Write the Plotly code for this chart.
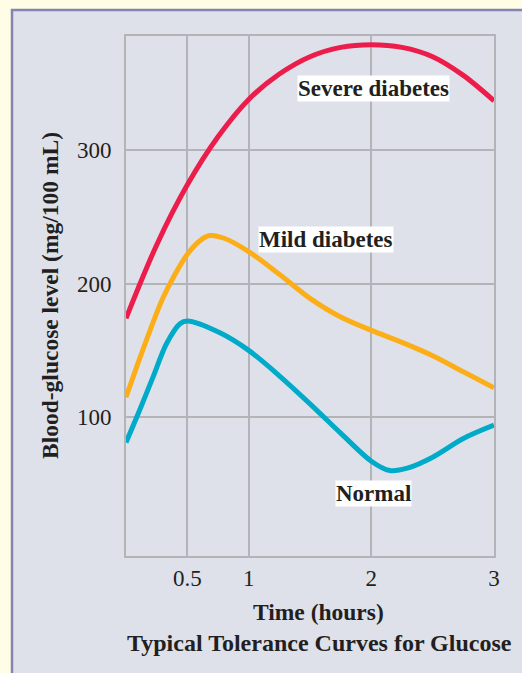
import plotly.graph_objects as go

# ---------------------------------------------------------------------------
# Data
# ---------------------------------------------------------------------------
severe_hours = [0, 0.25, 0.5, 0.75, 1.0, 1.25, 1.5, 1.75, 2.0, 2.25, 2.5, 2.75, 3.0]
severe_level = [174, 229, 274, 310, 338, 357, 370, 377, 379, 377, 370, 356, 337]

mild_hours = [0, 0.1, 0.2, 0.3, 0.4, 0.5, 0.6, 0.68, 0.8, 1.0, 1.25, 1.5,
              1.75, 2.0, 2.25, 2.5, 2.75, 3.0]
mild_level = [115, 141, 166, 189, 207, 222, 232, 236, 234, 224, 207, 189,
              175, 165, 156, 146, 134, 122]

normal_hours = [0, 0.11, 0.22, 0.33, 0.44, 0.5, 0.77, 1.0, 1.25, 1.5, 1.75,
                2.0, 2.15, 2.3, 2.5, 2.75, 3.0]
normal_level = [81, 105, 130, 155, 170, 172, 163, 150, 131, 110, 88,
                67, 60, 62, 70, 84, 94]

x_ticks = [0.5, 1, 2, 3]
x_tick_text = ["0.5", "1", "2", "3"]
y_ticks = [100, 200, 300]

curve_labels = ["Severe diabetes", "Mild diabetes", "Normal"]
label_x = [2.02, 1.63, 2.02]
label_y = [346, 233, 43]

# ---------------------------------------------------------------------------
# Style
# ---------------------------------------------------------------------------
SERIF = "Liberation Serif, Times New Roman, serif"
INK = "#231f20"
GRID = "#b3b3b8"
RED = "#ec1c4b"
ORANGE = "#fbae17"
CYAN = "#00aac9"

W, H = 522, 673
ML, MR, MT, MB = 126, 28, 36, 117
PW, PH = W - ML - MR, H - MT - MB


def px_x(p):
    return (p - ML) / PW


def px_y(p):
    return (H - MB - p) / PH


fig = go.Figure()
for hrs, lvl, color in [
    (severe_hours, severe_level, RED),
    (mild_hours, mild_level, ORANGE),
    (normal_hours, normal_level, CYAN),
]:
    fig.add_trace(go.Scatter(
        x=hrs, y=lvl, mode="lines",
        line=dict(color=color, width=5, shape="spline", smoothing=0.9),
        showlegend=False, hoverinfo="skip",
    ))

annotations = []
for txt, ax, ay in zip(curve_labels, label_x, label_y):
    annotations.append(dict(
        x=ax, y=ay, xref="x", yref="y", text=f"<b>{txt}</b>",
        showarrow=False, bgcolor="white", borderpad=0,
        font=dict(family=SERIF, size=23, color=INK),
    ))

annotations += [
    dict(x=px_x(50), y=0.5, xref="paper", yref="paper",
         xanchor="center", yanchor="middle",
         text="<b>Blood-glucose level (mg/100 mL)</b>", textangle=-90,
         showarrow=False, font=dict(family=SERIF, size=23.5, color=INK)),
    dict(x=px_x(318), y=px_y(612), xref="paper", yref="paper",
         xanchor="center", yanchor="middle",
         text="<b>Time (hours)</b>", showarrow=False,
         font=dict(family=SERIF, size=23.5, color=INK)),
    dict(x=px_x(319), y=px_y(643), xref="paper", yref="paper",
         xanchor="center", yanchor="middle",
         text="<b>Typical Tolerance Curves for Glucose</b>", showarrow=False,
         font=dict(family=SERIF, size=24, color=INK)),
]

fig.update_layout(
    width=W, height=H,
    margin=dict(l=ML, r=MR, t=MT, b=MB),
    paper_bgcolor="#fffde6",
    plot_bgcolor="white",
    annotations=annotations,
    shapes=[dict(
        type="rect", xref="paper", yref="paper", layer="below",
        x0=px_x(12), x1=px_x(600), y0=px_y(800), y1=px_y(10),
        fillcolor="#dfe1ea", line=dict(color="#8582b4", width=2.5),
    )],
)
fig.update_xaxes(
    range=[0, 3], tickvals=x_ticks, ticktext=x_tick_text,
    showgrid=True, gridcolor=GRID, gridwidth=2,
    showline=True, linecolor=GRID, linewidth=2, mirror=True,
    ticks="", zeroline=False,
    tickfont=dict(family=SERIF, size=23, color=INK),
)
fig.update_yaxes(
    range=[-4, 385.5], tickvals=y_ticks,
    showgrid=True, gridcolor=GRID, gridwidth=2,
    showline=True, linecolor=GRID, linewidth=2, mirror=True,
    ticks="", zeroline=False, ticklabelstandoff=8,
    tickfont=dict(family=SERIF, size=23, color=INK),
)

# the page has a default 8px body margin; drop it so the figure fills the window
fig.write_html(
    "out.html",
    config={"displayModeBar": False, "staticPlot": True},
    post_script="document.body.style.margin='0';",
)
